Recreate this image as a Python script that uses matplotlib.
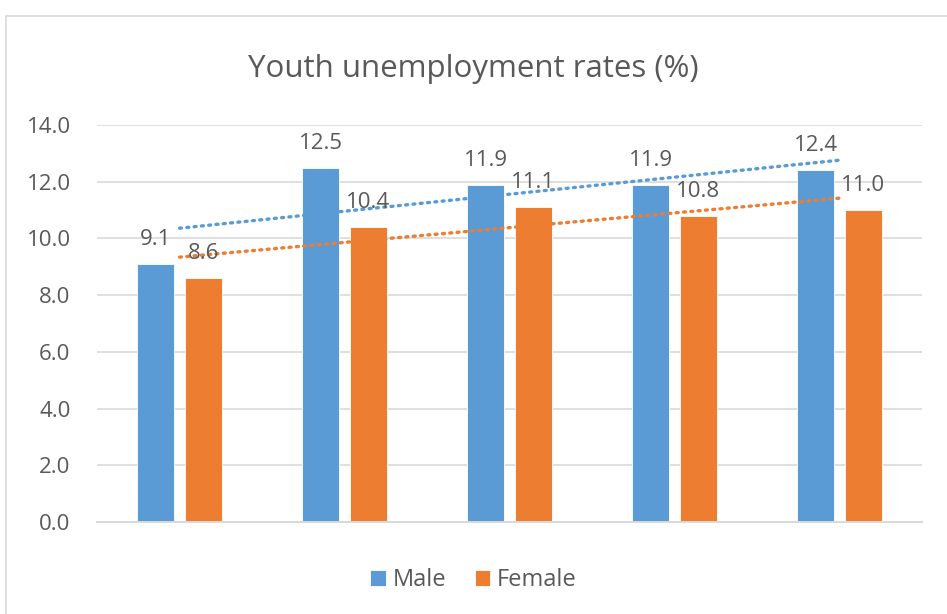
import matplotlib.pyplot as plt
import numpy as np
from matplotlib.patches import Rectangle

plt.rcParams['font.family'] = ['Open Sans', 'DejaVu Sans']

title = 'Youth unemployment rates (%)'
series_names = ['Male', 'Female']
male = [9.1, 12.5, 11.9, 11.9, 12.4]
female = [8.6, 10.4, 11.1, 10.8, 11.0]
yticks = [0.0, 2.0, 4.0, 6.0, 8.0, 10.0, 12.0, 14.0]

colors = ['#5B9BD5', '#ED7D31']
text_color = '#595959'
grid_color = '#D9D9D9'

W, H = 947, 614
fig = plt.figure(figsize=(W / 100, H / 100), dpi=100)
ax = fig.add_axes([97 / W, 1 - 522 / H, (922 - 97) / W, (522 - 125) / H])

x = np.arange(len(male))
bar_width = 0.225
offset = 0.145
for i, (values, name) in enumerate(zip([male, female], series_names)):
    pos = x + (offset if i else -offset)
    bars = ax.bar(pos, values, width=bar_width, color=colors[i], label=name,
                  edgecolor='white', linewidth=0.6, zorder=2)
    for b, v in zip(bars, values):
        ax.annotate(f'{v:.1f}', (b.get_x() + b.get_width() / 2, v),
                    xytext=(0, 10), textcoords='offset points',
                    ha='center', va='bottom', fontsize=16, color=text_color, zorder=4)
    # linear trendline, Excel style
    slope, intercept = np.polyfit(x, values, 1)
    ax.plot(x, slope * x + intercept, linestyle=(0, (0.6, 1.6)), linewidth=2.4,
            color=colors[i], dash_capstyle='round', zorder=3)

ax.set_xlim(-0.5, len(male) - 0.5)
ax.set_ylim(0, 14)
ax.set_yticks(yticks, [f'{t:.1f}' for t in yticks])
ax.set_xticks([])
ax.tick_params(axis='y', length=0, pad=19, labelsize=16, labelcolor=text_color)
ax.grid(axis='y', color=grid_color, linewidth=1.2, zorder=0)
for side in ['top', 'right', 'left']:
    ax.spines[side].set_visible(False)
ax.spines['bottom'].set_color(grid_color)
ax.spines['bottom'].set_linewidth(1.4)

fig.text(0.5, 1 - 69 / H, title, ha='center', va='center', fontsize=22.5, color=text_color)

leg = fig.legend(loc='center', bbox_to_anchor=(0.5, 1 - 580 / H), ncol=2, frameon=False,
                 fontsize=17, handlelength=0.65, handleheight=0.65, handletextpad=0.3,
                 columnspacing=1.2, labelcolor=text_color)

fig.patches.append(Rectangle((6 / W, -0.1), 1.2, 1 - 16 / H + 0.1, transform=fig.transFigure,
                             fill=False, edgecolor=grid_color, linewidth=1.2))

fig.savefig('out.png', dpi=100)
